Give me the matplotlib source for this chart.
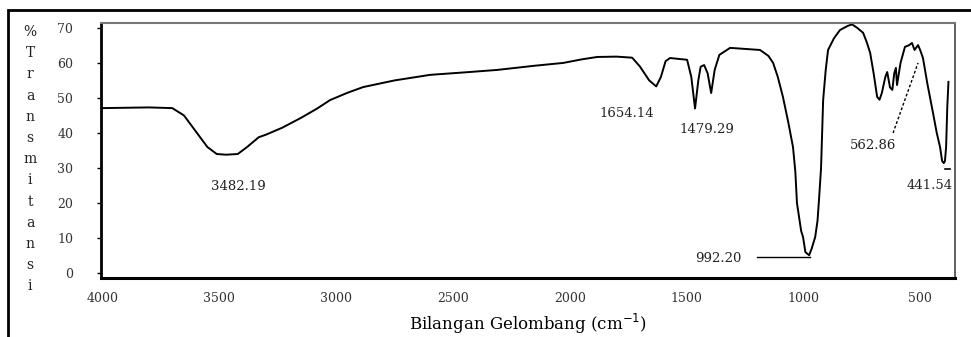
import matplotlib
matplotlib.use("Agg")
import matplotlib.pyplot as plt
from matplotlib.patches import Rectangle

# spektrum FTIR
bilangan = [4000, 3900, 3800, 3700, 3650, 3600, 3550, 3510, 3470, 3420, 3380, 3330,
            3300, 3230, 3150, 3080, 3025, 2950, 2884, 2750, 2597, 2450, 2311, 2150,
            2028, 1950, 1883, 1800, 1733, 1700, 1660, 1630, 1610, 1590, 1571, 1498,
            1480, 1464, 1450, 1440, 1425, 1410, 1395, 1380, 1360, 1314, 1250, 1186,
            1150, 1130, 1110, 1088, 1065, 1045, 1035, 1028, 1010, 1002, 992, 976,
            965, 950, 940, 933, 925, 916, 905, 895, 870, 844, 810, 792, 770, 745,
            730, 715, 700, 685, 675, 665, 650, 642, 630, 620, 612, 605, 600, 585,
            566, 550, 536, 525, 510, 500, 489, 470, 446, 430, 416, 407, 400, 395,
            390, 385, 380]
transmitansi = [47.1, 47.2, 47.3, 47.1, 45.0, 40.5, 36.0, 34.0, 33.8, 34.0, 36.0, 38.8,
                39.5, 41.5, 44.3, 47.0, 49.4, 51.5, 53.1, 55.0, 56.6, 57.3, 58.0, 59.2,
                60.0, 61.0, 61.7, 61.8, 61.5, 59.0, 55.0, 53.3, 56.0, 60.5, 61.4, 60.9,
                56.0, 47.0, 55.0, 58.9, 59.4, 57.0, 51.4, 58.0, 62.3, 64.3, 64.0, 63.7,
                62.0, 60.0, 56.0, 50.3, 43.0, 36.0, 29.0, 20.0, 12.0, 10.3, 6.0, 5.1,
                7.0, 10.3, 15.0, 21.7, 30.0, 49.4, 58.0, 63.7, 67.0, 69.4, 70.6, 71.0,
                70.0, 68.6, 66.0, 62.9, 57.0, 50.3, 49.5, 51.4, 56.0, 57.4, 53.0, 52.3,
                57.0, 58.6, 53.7, 60.0, 64.6, 65.0, 65.7, 63.7, 65.1, 63.5, 61.4, 54.0,
                45.7, 40.0, 36.0, 32.0, 31.4, 32.0, 36.0, 47.4, 54.6]

# label puncak
puncak_label = ["3482.19", "1654.14", "1479.29", "992.20", "562.86", "441.54"]
puncak_x = [3418, 1755, 1412, 1365, 702, 459]
puncak_y = [24.6, 45.7, 40.9, 4.3, 36.3, 25.1]

x_ticks = [4000, 3500, 3000, 2500, 2000, 1500, 1000, 500]
y_ticks = [0, 10, 20, 30, 40, 50, 60, 70]

huruf_font = "DejaVu Serif"

fig = plt.figure(figsize=(9.71, 3.37), dpi=100)
ax = fig.add_axes([101 / 971, 1 - 278 / 337, 854 / 971, 255 / 337])

ax.plot(bilangan, transmitansi, color="black", lw=1.4)
ax.set_xlim(4005, 352)
ax.set_ylim(-1.4, 71.4)

ax.set_xticks(x_ticks)
ax.set_yticks(y_ticks)
ax.tick_params(axis="x", length=0, pad=10, labelsize=9, labelcolor="#333333")
ax.tick_params(axis="y", length=3, width=1, direction="out", pad=17,
               labelsize=9, labelcolor="#333333")
for lab in ax.get_xticklabels() + ax.get_yticklabels():
    lab.set_fontfamily(huruf_font)

ax.spines["left"].set_linewidth(2)
ax.spines["bottom"].set_linewidth(2.2)
ax.spines["top"].set_color("#777777")
ax.spines["top"].set_linewidth(1.5)
ax.spines["right"].set_color("#555555")
ax.spines["right"].set_linewidth(1.3)

# anotasi
for t, x, y in zip(puncak_label, puncak_x, puncak_y):
    ax.text(x, y, t, ha="center", va="center", fontsize=9.5,
            family=huruf_font, color="#222222")
ax.plot([1199, 972], [4.6, 4.6], color="black", lw=1)
ax.plot([617, 510], [40, 60], color="black", lw=1, ls=(0, (2, 1.5)))
ax.plot([395, 374], [29.7, 29.7], color="black", lw=1.2)

ax.set_xlabel("Bilangan Gelombang (cm$^{-1}$)", fontsize=12,
              family=huruf_font, labelpad=5)

# label sumbu y huruf per huruf
huruf = ["%", "T", "r", "a", "n", "s", "m", "i", "t", "a", "n", "s", "i"]
for i, h in enumerate(huruf):
    fig.text(30 / 971, 1 - (32 + i * 21.2) / 337, h, ha="center", va="center",
             fontsize=10, family=huruf_font, color="#222222")

# bingkai luar
fig.patches.append(Rectangle((8 / 971, -0.2), 1.2, 1.2 - 10 / 337,
                             transform=fig.transFigure, fill=False,
                             edgecolor="black", lw=2))

fig.savefig("out.png", dpi=100)
